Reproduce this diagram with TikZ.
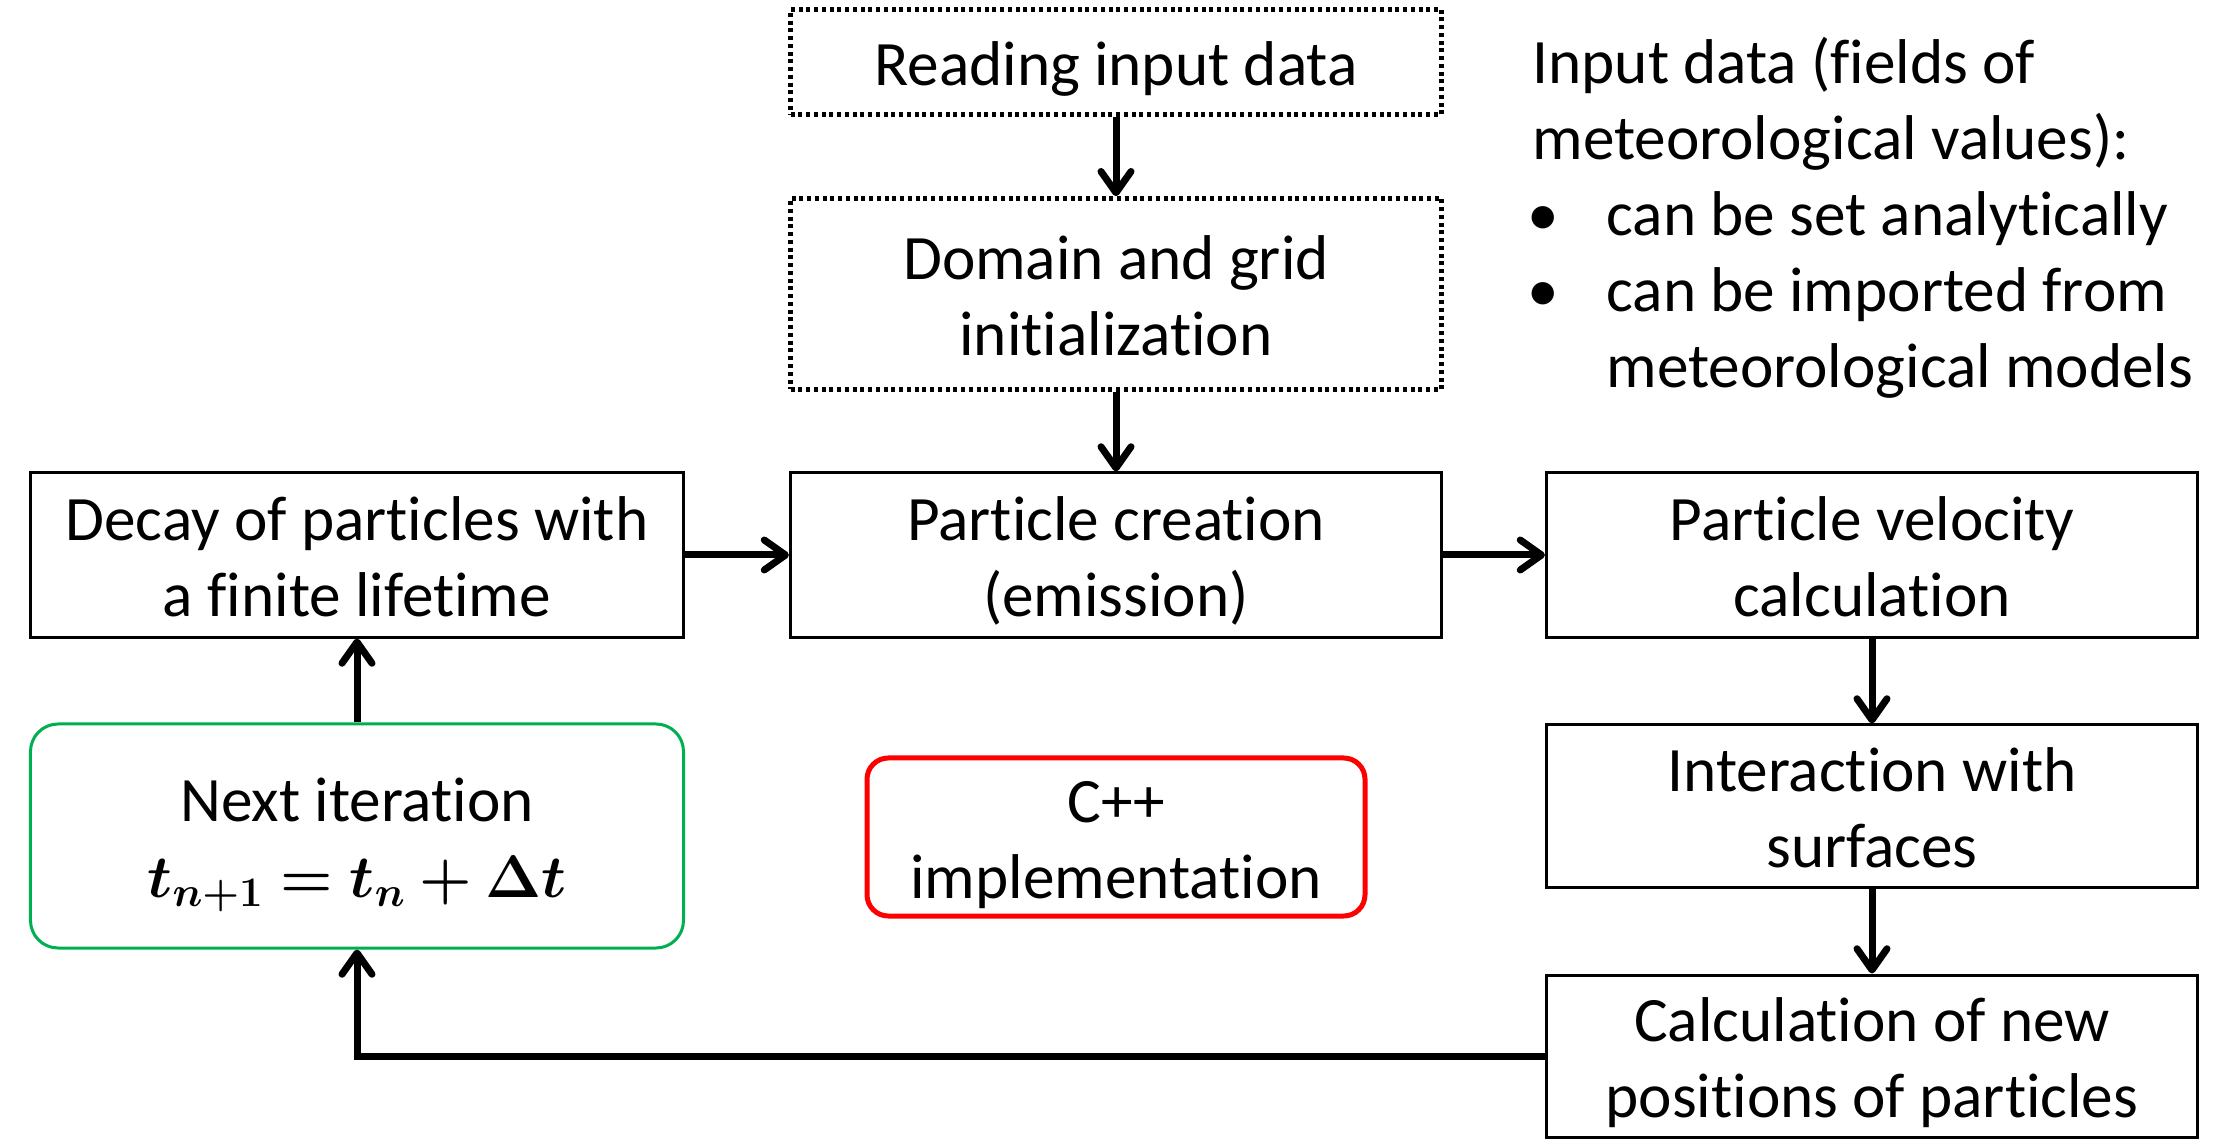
\documentclass[tikz,border=0pt]{standalone}
\usepackage{fix-cm}
\usepackage{amsmath,bm}
\usepackage{fontspec}
\setmainfont{Carlito}[Ligatures=NoCommon]
\usetikzlibrary{arrows.meta}

\definecolor{pptgreen}{HTML}{00B050}
% struts so that the lines sit in the middle of a box as in the slide
\newcommand{\topstrut}{\rule{0pt}{25.7pt}}
\newcommand{\botstrut}{\rule[-7.1pt]{0pt}{0pt}}

\tikzset{
    box/.style={draw, line width=1.2pt, minimum width=260.4pt, align=center, inner xsep=2pt, inner ysep=0pt},
    dotbox/.style={box, line width=1.8pt, dash pattern=on 1.6pt off 1.5pt},
    greenbox/.style={box, draw=pptgreen, rounded corners=11pt},
    redbox/.style={box, draw=red, line width=2pt, rounded corners=8.5pt, minimum width=199.2pt},
    arr/.style={-{Straight Barb[round, length=8.5pt, width=12pt]}, line width=2.8pt},
}

\begin{document}
\begin{tikzpicture}[x=0.4pt, y=-0.4pt, font=\fontsize{25.3}{30.4}\selectfont]
    \useasboundingbox (0,0) rectangle (2229,1145);

    % Middle column
    \node[dotbox, minimum height=42pt]   (read)   at (1116,62)  {\topstrut Reading input data\botstrut};
    \node[dotbox, minimum height=76.4pt] (domain) at (1116,294) {\topstrut Domain and grid\\initialization\botstrut};
    \node[box, minimum height=65.6pt]    (create) at (1116,555) {\topstrut Particle creation\\(emission)\botstrut};

    % Left column
    \node[box, minimum height=65.6pt, minimum width=261.2pt] (decay) at (357,555)
        {\topstrut Decay of particles with\\a finite lifetime\botstrut};
    \node[greenbox, minimum height=89.6pt, minimum width=261.2pt] (next) at (357,836)
        {\topstrut Next iteration\\{\fontsize{24}{30}\selectfont$\bm{t_{n+1} = t_n + \Delta t}$}\botstrut};

    % Right column
    \node[box, minimum height=65.6pt] (velocity) at (1872,555)  {\topstrut Particle velocity\\calculation\botstrut};
    \node[box, minimum height=64.8pt] (interact) at (1872,806)  {\topstrut Interaction with\\surfaces\botstrut};
    \node[box, minimum height=64.8pt] (calc)     at (1872,1056) {\topstrut Calculation of new\\positions of particles\botstrut};

    % Implementation note
    \node[redbox, minimum height=63.2pt] (cpp) at (1116,837) {\topstrut C++\\implementation\botstrut};

    % Input data remark
    \node[anchor=north west, align=left, inner sep=0pt] (input) at (1532,37)
        {Input data (fields of\\
         meteorological values):\\
         \makebox[29.6pt][l]{\hspace{-2pt}\textbullet}can be set analytically\\
         \makebox[29.6pt][l]{\hspace{-2pt}\textbullet}can be imported from\\
         \makebox[29.6pt][l]{}meteorological models};

    % Flow
    \draw[arr] (read) -- (domain);
    \draw[arr] (domain) -- (create);
    \draw[arr] (decay) -- (create);
    \draw[arr] (create) -- (velocity);
    \draw[arr] (velocity) -- (interact);
    \draw[arr] (interact) -- (calc);
    \draw[arr] (calc.west) -| (next.south);
    \draw[arr] (next) -- (decay);
\end{tikzpicture}
\end{document}
